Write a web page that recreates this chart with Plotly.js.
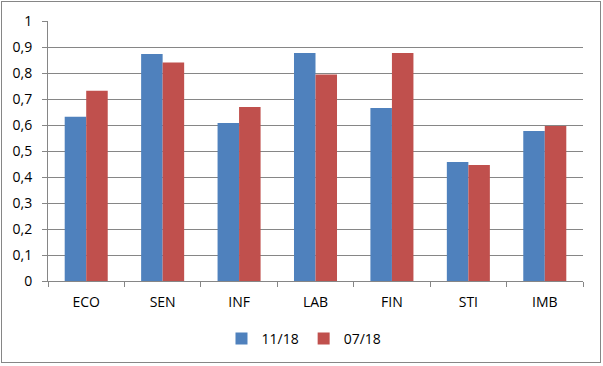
<!DOCTYPE html>
<html><head><meta charset="utf-8">
<script src="https://cdn.plot.ly/plotly-3.0.1.min.js"></script>
<style>
html,body{margin:0;padding:0;background:#fff;}
#chart{position:absolute;left:1px;top:1px;width:598px;height:360px;border:1px solid #868686;}
</style></head><body>
<div id="chart"></div>
<script>
const categories = ["ECO","SEN","INF","LAB","FIN","STI","IMB"];
const series1Name = "11/18";
const series1 = [0.632, 0.873, 0.608, 0.877, 0.665, 0.458, 0.577];
const series2Name = "07/18";
const series2 = [0.732, 0.840, 0.669, 0.794, 0.877, 0.446, 0.596];
const yTicks = [0,0.1,0.2,0.3,0.4,0.5,0.6,0.7,0.8,0.9,1];

const font = {family: "Open Sans, Liberation Sans, sans-serif", size: 14, color: "#000"};
const data = [
  {type:"bar", name:series1Name, x:categories, y:series1, marker:{color:"#4F81BD"}},
  {type:"bar", name:series2Name, x:categories, y:series2, marker:{color:"#C0504D"}}
];
const layout = {
  width:598, height:360,
  margin:{l:46, r:17, t:19, b:81, autoexpand:false},
  paper_bgcolor:"#fff", plot_bgcolor:"#fff",
  separators:",.",
  font:font,
  barmode:"group", bargap:0.437, bargroupgap:0,
  showlegend:true,
  legend:{orientation:"h", x:0.505, xref:"container", xanchor:"center", y:0.064, yref:"container", yanchor:"middle",
          font:font, itemwidth:30, traceorder:"normal"},
  xaxis:{type:"category", tickson:"boundaries", ticks:"outside", ticklen:5, tickcolor:"#868686",
         showline:true, linecolor:"#868686", linewidth:1, showgrid:false, tickfont:font,
         ticklabelstandoff:8, fixedrange:true},
  yaxis:{range:[0,1], tickvals:yTicks, ticks:"outside", ticklen:5, tickcolor:"#868686",
         showline:true, linecolor:"#868686", linewidth:1, gridcolor:"#868686", gridwidth:1,
         zeroline:false, tickfont:font, ticklabelstandoff:7, fixedrange:true}
};
Plotly.newPlot("chart", data, layout, {displayModeBar:false, staticPlot:true});
</script>
</body></html>
